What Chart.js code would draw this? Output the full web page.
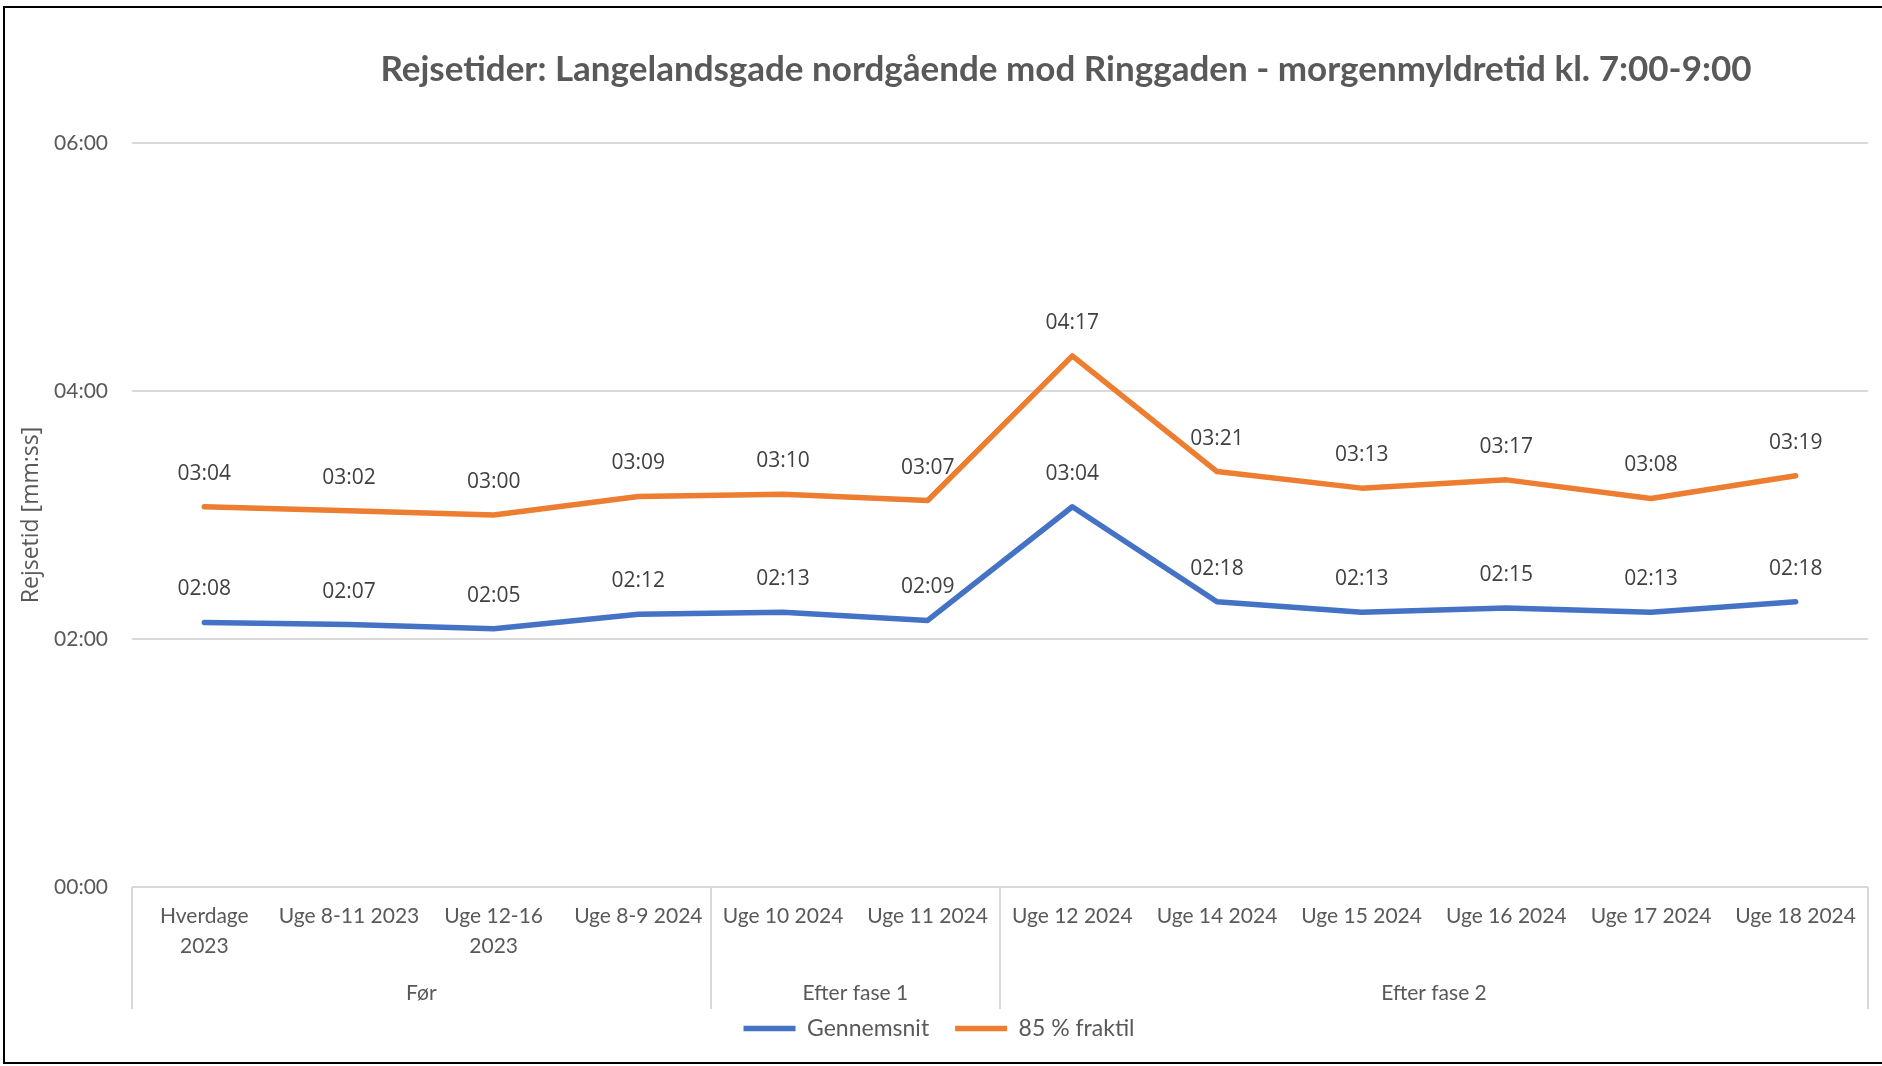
<!DOCTYPE html>
<html>
<head>
<meta charset="utf-8">
<script src="https://cdn.jsdelivr.net/npm/chart.js@4.4.0/dist/chart.umd.min.js"></script>
<style>
html, body { margin: 0; padding: 0; background: #fff; overflow: hidden; }
#wrap { position: relative; width: 1882px; height: 1066px; }
#frame { position: absolute; left: 3px; top: 6px; width: 1900px; height: 1054px; border: 2px solid #000; pointer-events: none; }
canvas { position: absolute; left: 0; top: 0; }
</style>
</head>
<body>
<div id="wrap">
  <canvas id="myChart" width="1882" height="1066"></canvas>
  <div id="frame"></div>
</div>
<script>
// data
const titleText = 'Rejsetider: Langelandsgade nordgående mod Ringgaden - morgenmyldretid kl. 7:00-9:00';
const categories = [
  ['Hverdage', '2023'], 'Uge 8-11 2023', ['Uge 12-16', '2023'], 'Uge 8-9 2024',
  'Uge 10 2024', 'Uge 11 2024',
  'Uge 12 2024', 'Uge 14 2024', 'Uge 15 2024', 'Uge 16 2024', 'Uge 17 2024', 'Uge 18 2024'
];
const groupNames = ['Før', 'Efter fase 1', 'Efter fase 2'];
const groupSizes = [4, 2, 6];
const gennemsnit = ['02:08', '02:07', '02:05', '02:12', '02:13', '02:09', '03:04', '02:18', '02:13', '02:15', '02:13', '02:18'];
const fraktil85 = ['03:04', '03:02', '03:00', '03:09', '03:10', '03:07', '04:17', '03:21', '03:13', '03:17', '03:08', '03:19'];
const yTicks = ['00:00', '02:00', '04:00', '06:00'];

function toSec(s) {
  let p = s.split(':');
  return parseInt(p[0]) * 60 + parseInt(p[1]);
}
function toMMSS(v) {
  let m = Math.floor(v / 60), s = Math.round(v % 60);
  return String(m).padStart(2, '0') + ':' + String(s).padStart(2, '0');
}

const grey = '#595959';
const axisFont = { family: 'Lato', size: 21 };

// titel
const titlePlugin = {
  id: 'excelTitle',
  afterDraw(chart) {
    const ctx = chart.ctx;
    ctx.save();
    ctx.font = 'bold 35px Lato';
    ctx.fillStyle = grey;
    ctx.textAlign = 'center';
    ctx.textBaseline = 'middle';
    ctx.fillText(titleText, 1066, 70);
    ctx.restore();
  }
};

// gruppe-akse under kategorierne
const groupPlugin = {
  id: 'groupAxis',
  afterDraw(chart) {
    const ctx = chart.ctx;
    const x = chart.scales.x;
    const area = chart.chartArea;
    const n = categories.length;
    const edge = (i) => {
      if (i <= 0) return area.left;
      if (i >= n) return area.right;
      return (x.getPixelForTick(i - 1) + x.getPixelForTick(i)) / 2;
    };
    ctx.save();
    ctx.strokeStyle = '#d9d9d9';
    ctx.lineWidth = 2;
    ctx.font = '21px Lato';
    ctx.fillStyle = grey;
    ctx.textAlign = 'center';
    ctx.textBaseline = 'middle';
    let start = 0;
    const bounds = [0];
    groupSizes.forEach((size, g) => {
      const a = edge(start), b = edge(start + size);
      ctx.fillText(groupNames[g], (a + b) / 2, area.bottom + 106);
      start += size;
      bounds.push(start);
    });
    bounds.forEach(i => {
      const px = Math.round(edge(i));
      ctx.beginPath();
      ctx.moveTo(px, area.bottom);
      ctx.lineTo(px, area.bottom + 122);
      ctx.stroke();
    });
    ctx.restore();
  }
};

// datalabels
const labelPlugin = {
  id: 'pointLabels',
  afterDatasetsDraw(chart) {
    const ctx = chart.ctx;
    ctx.save();
    ctx.font = '21px "Open Sans"';
    ctx.fillStyle = '#404040';
    ctx.textAlign = 'center';
    ctx.textBaseline = 'middle';
    chart.data.datasets.forEach((ds, i) => {
      chart.getDatasetMeta(i).data.forEach((pt, j) => {
        ctx.fillText(toMMSS(ds.data[j]), pt.x, pt.y - 33);
      });
    });
    ctx.restore();
  }
};

const data = {
  labels: categories,
  datasets: [{
    label: 'Gennemsnit',
    data: gennemsnit.map(toSec),
    borderColor: '#4472C4',
    backgroundColor: '#4472C4',
    borderWidth: 5.5,
    pointRadius: 0,
    borderCapStyle: 'round',
    borderJoinStyle: 'round',
    tension: 0
  }, {
    label: '85 % fraktil',
    data: fraktil85.map(toSec),
    borderColor: '#ED7D31',
    backgroundColor: '#ED7D31',
    borderWidth: 5.5,
    pointRadius: 0,
    borderCapStyle: 'round',
    borderJoinStyle: 'round',
    tension: 0
  }]
};

const myChart = new Chart(document.getElementById('myChart'), {
  type: 'line',
  data: data,
  options: {
    responsive: false,
    animation: false,
    layout: { padding: { left: 10, right: 14, top: 143, bottom: 16 } },
    plugins: {
      title: { display: false },
      tooltip: { enabled: false },
      legend: {
        position: 'bottom',
        labels: {
          usePointStyle: true,
          pointStyle: 'line',
          pointStyleWidth: 52,
          padding: 26,
          color: grey,
          font: { family: 'Lato', size: 23 }
        }
      }
    },
    scales: {
      x: {
        offset: true,
        grid: { display: false, drawTicks: false, offset: true },
        border: { display: false },
        ticks: {
          color: grey,
          font: { family: 'Lato', size: 21, lineHeight: 1.45 },
          padding: 14,
          maxRotation: 0,
          autoSkip: false
        },
        afterFit(scale) { scale.height = 104; }
      },
      y: {
        min: toSec(yTicks[0]),
        max: toSec(yTicks[yTicks.length - 1]),
        grid: { color: '#d9d9d9', lineWidth: 2, drawTicks: false },
        border: { display: false },
        ticks: {
          stepSize: toSec(yTicks[1]) - toSec(yTicks[0]),
          color: grey,
          font: axisFont,
          padding: 24,
          callback: (v) => toMMSS(v)
        },
        title: {
          display: true,
          text: 'Rejsetid [mm:ss]',
          color: grey,
          font: { family: 'Open Sans', size: 23 },
          padding: { top: 8, bottom: 0 }
        },
        afterFit(scale) { scale.width = 122; }
      }
    }
  },
  plugins: [titlePlugin, groupPlugin, labelPlugin]
});
</script>
</body>
</html>
